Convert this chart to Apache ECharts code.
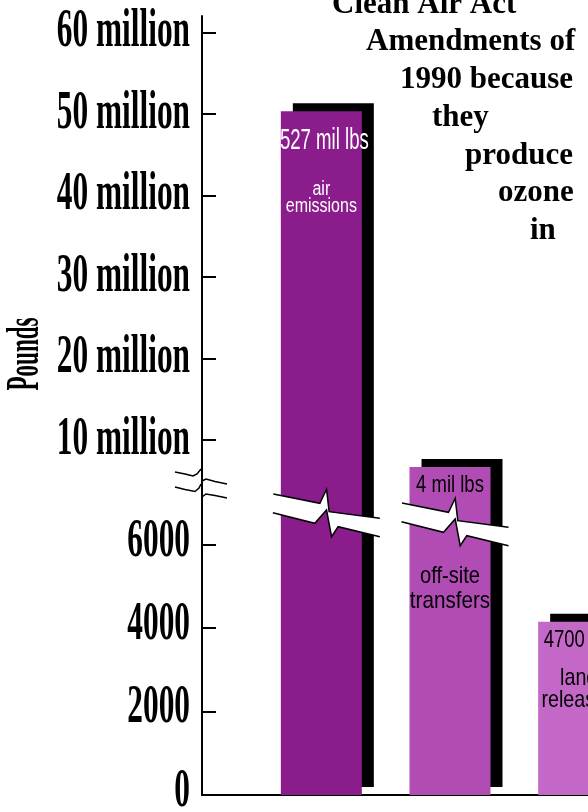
<!DOCTYPE html>
<html>
<head>
<meta charset="utf-8">
<script src="https://cdn.jsdelivr.net/npm/echarts@6/dist/echarts.min.js"></script>
<style>
html,body{margin:0;padding:0;background:#fff;}
#c{width:588px;height:812px;}
</style>
</head>
<body>
<div id="c"></div>
<script>
// ---- data ----
const categories = ['air emissions', 'off-site transfers', 'land releases'];
const pounds = [50300000, 6650000, 4150];
const barValueLabels = ['527 mil lbs', '4 mil lbs', '4700 lbs'];
const barNameLines = [['air', 'emissions'], ['off-site', 'transfers'], ['land', 'releases']];
const upperTicks = [10000000, 20000000, 30000000, 40000000, 50000000, 60000000];
const upperTickLabels = ['10 million', '20 million', '30 million', '40 million', '50 million', '60 million'];
const lowerTicks = [0, 2000, 4000, 6000];
const lowerTickLabels = ['0', '2000', '4000', '6000'];
const barColors = ['#8a1c8c', '#b04cb4', '#c468c8'];
const axisName = 'Pounds';
const noteLines = ['Clean Air Act', 'Amendments of', '1990 because', 'they', 'produce', 'ozone', 'in'];

// ---- layout ----
const GRID_LEFT = 257, GRID_WIDTH = 386, AXIS_X = 202;
const UPPER_TOP = 16, SPLIT_Y = 505, BASE_Y = 795;
const UPPER_MIN = 2000000, UPPER_MAX = 62000000, LOWER_MAX = 6950;
const SERIF = "'Liberation Serif','Times New Roman',serif";
const SANS = "'Liberation Sans',Arial,sans-serif";

const chart = echarts.init(document.getElementById('c'), null, {renderer: 'canvas'});

function yAxisCfg(grid, min, max, ticks) {
  return {
    type: 'value', gridIndex: grid, min: min, max: max,
    offset: GRID_LEFT - AXIS_X,
    splitLine: {show: false},
    axisLine: {show: true, lineStyle: {color: '#000', width: 2}},
    axisTick: {show: true, inside: true, length: 14, customValues: ticks, lineStyle: {color: '#000', width: 2}},
    axisLabel: {show: false, customValues: ticks}
  };
}

const shadowStyle = {shadowColor: '#000', shadowBlur: 0, shadowOffsetX: 12, shadowOffsetY: -8};

// upper panel only shows bars that reach above its minimum
function seriesCfg(idx, z, minVisible) {
  return {
    type: 'bar', xAxisIndex: idx, yAxisIndex: idx, barWidth: 81, z: z, clip: true,
    itemStyle: shadowStyle,
    label: {show: false},
    data: pounds.map(function (v, i) {
      return {value: v > minVisible ? v : '-', itemStyle: {color: barColors[i]}};
    })
  };
}

const gridBase = {outerBoundsMode: 'none', containLabel: false, left: GRID_LEFT, width: GRID_WIDTH};

chart.setOption({
  animation: false,
  grid: [
    Object.assign({}, gridBase, {top: UPPER_TOP, height: SPLIT_Y - UPPER_TOP}),
    Object.assign({}, gridBase, {top: SPLIT_Y, height: BASE_Y - SPLIT_Y})
  ],
  xAxis: [
    {type: 'category', gridIndex: 0, data: categories, show: false},
    {type: 'category', gridIndex: 1, data: categories,
     axisLine: {show: true, lineStyle: {color: '#000', width: 2}},
     axisTick: {show: false}, axisLabel: {show: false}}
  ],
  yAxis: [
    yAxisCfg(0, UPPER_MIN, UPPER_MAX, upperTicks),
    yAxisCfg(1, 0, LOWER_MAX, lowerTicks)
  ],
  series: [seriesCfg(0, 3, UPPER_MIN), seriesCfg(1, 2, -1)]
});

// condensed text helper (scaled horizontally)
function ctext(text, x, y, opt) {
  return {
    type: 'text', z: 30, x: x, y: y, scaleX: opt.sx, rotation: opt.rot || 0,
    style: {text: text, fill: opt.color || '#000', fontFamily: opt.family || SANS,
            fontWeight: opt.weight || 'normal', fontSize: opt.size,
            align: opt.align || 'center', verticalAlign: 'middle'}
  };
}

function addDecorations() {
  const els = [];
  const yBase = chart.convertToPixel({yAxisIndex: 1}, 0);
  els.push({type: 'line', z: 20, shape: {x1: AXIS_X - 1, y1: yBase, x2: GRID_LEFT + 1, y2: yBase},
            style: {stroke: '#000', lineWidth: 2}});

  // tick labels (tall condensed)
  const tickOpt = {family: SERIF, weight: 'bold', size: 54, sx: 0.58, align: 'right'};
  upperTicks.forEach(function (v, i) {
    els.push(ctext(upperTickLabels[i], AXIS_X - 12, chart.convertToPixel({yAxisIndex: 0}, v), tickOpt));
  });
  lowerTicks.forEach(function (v, i) {
    els.push(ctext(lowerTickLabels[i], AXIS_X - 12, chart.convertToPixel({yAxisIndex: 1}, v) - 3, tickOpt));
  });

  // axis name
  els.push(ctext(axisName, 26, 354, {family: SERIF, weight: 'bold', size: 46, sx: 0.5, rot: Math.PI / 2}));

  // axis break marks
  const axisMarks = [
    [[AXIS_X - 27, 472], [AXIS_X - 17, 474], [AXIS_X - 9, 476], [AXIS_X - 5, 474], [AXIS_X - 1, 469]],
    [[AXIS_X, 481], [AXIS_X + 4, 479], [AXIS_X + 13, 481.5], [AXIS_X + 25, 484]],
    [[AXIS_X - 27, 487], [AXIS_X - 17, 489.5], [AXIS_X - 7, 491.5], [AXIS_X - 3, 488], [AXIS_X - 1, 484]],
    [[AXIS_X, 497], [AXIS_X + 4, 494], [AXIS_X + 13, 495.5], [AXIS_X + 25, 498]]
  ];
  axisMarks.forEach(function (pts) {
    els.push({type: 'polyline', z: 20, shape: {points: pts}, style: {stroke: '#000', lineWidth: 1.5, fill: null}});
  });

  // white zigzag bands across the broken bars
  const top = [[-48, 0], [-1.5, 9.3], [5.2, -4.7], [7.8, 17.7], [58.5, 24.3]];
  const bottom = [[58.5, 42.7], [16.8, 32.7], [10.2, 42.7], [5.2, 16], [-6.5, 29.3], [-48.5, 18.7]];
  const bandY = [494, 503];
  const cxs = categories.map(function (c) { return chart.convertToPixel({xAxisIndex: 1}, c); });
  [0, 1].forEach(function (i) {
    const cx = cxs[i], y0 = bandY[i];
    const tr = function (p) { return [cx + p[0], y0 + p[1]]; };
    const tp = top.map(tr), bp = bottom.map(tr);
    els.push({type: 'polygon', z: 20, shape: {points: tp.concat(bp)}, style: {fill: '#fff', stroke: null}});
    els.push({type: 'polyline', z: 21, shape: {points: tp}, style: {stroke: '#000', lineWidth: 1.5, fill: null}});
    els.push({type: 'polyline', z: 21, shape: {points: bp}, style: {stroke: '#000', lineWidth: 1.5, fill: null}});
  });

  // bar labels
  const top0 = chart.convertToPixel({yAxisIndex: 0}, pounds[0]);
  const top1 = chart.convertToPixel({yAxisIndex: 0}, pounds[1]);
  const top2 = chart.convertToPixel({yAxisIndex: 1}, pounds[2]);
  const W = '#fff';
  els.push(ctext(barValueLabels[0], cxs[0] + 3, top0 + 29, {size: 30, sx: 0.62, color: W}));
  els.push(ctext(barNameLines[0][0], cxs[0], top0 + 78, {size: 20, sx: 0.8, color: W}));
  els.push(ctext(barNameLines[0][1], cxs[0], top0 + 95, {size: 20, sx: 0.8, color: W}));
  els.push(ctext(barValueLabels[1], cxs[1], top1 + 18, {size: 24, sx: 0.77}));
  els.push(ctext(barNameLines[1][0], cxs[1], SPLIT_Y + 71, {size: 24, sx: 0.84}));
  els.push(ctext(barNameLines[1][1], cxs[1], SPLIT_Y + 96, {size: 24, sx: 0.86}));
  els.push(ctext(barValueLabels[2], cxs[2], top2 + 19, {size: 24, sx: 0.77}));
  els.push(ctext(barNameLines[2][0], cxs[2], top2 + 57, {size: 24, sx: 0.82}));
  els.push(ctext(barNameLines[2][1], cxs[2], top2 + 79, {size: 24, sx: 0.82}));

  // side note text
  const noteX = [332, 366, 400, 432, 465, 498, 530];
  const noteY = [5, 42, 80, 118, 156, 193, 231];
  noteLines.forEach(function (t, i) {
    els.push({type: 'text', z: 20, x: noteX[i], y: noteY[i],
              style: {text: t, fill: '#000', fontFamily: SERIF,
                      fontWeight: 'bold', fontSize: 31, align: 'left', verticalAlign: 'middle'}});
  });

  chart.setOption({graphic: {elements: els}});
}
addDecorations();
</script>
</body>
</html>
